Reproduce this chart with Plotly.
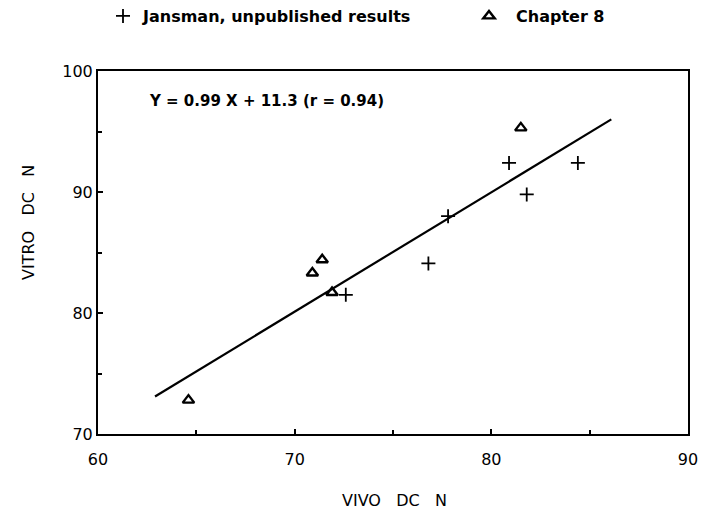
import plotly.graph_objects as go

# Data
jansman_x = [72.6, 76.8, 77.8, 80.9, 81.8, 84.4]
jansman_y = [81.5, 84.1, 88.0, 92.4, 89.8, 92.4]

chapter8_x = [64.6, 70.9, 71.4, 71.9, 81.5]
chapter8_y = [72.8, 83.3, 84.4, 81.7, 95.3]

fit_x = [62.9, 86.1]
fit_y = [73.1, 96.0]

equation_text = "Y = 0.99 X + 11.3 (r = 0.94)"
x_title = "VIVO   DC   N"
y_title = "VITRO   DC   N"

FONT = "DejaVu Sans"

fig = go.Figure()

fig.add_trace(go.Scatter(
    x=jansman_x, y=jansman_y, mode="markers",
    name="Jansman, unpublished results", legend="legend",
    marker=dict(symbol="cross-thin", size=10, color="black",
                line=dict(color="black", width=1.8)),
))
fig.add_trace(go.Scatter(
    x=chapter8_x, y=chapter8_y, mode="markers",
    name="Chapter 8", legend="legend2",
    marker=dict(symbol="triangle-up-open", size=10, color="black",
                line=dict(color="black", width=2.4)),
))
fig.add_trace(go.Scatter(
    x=fit_x, y=fit_y, mode="lines", showlegend=False,
    line=dict(color="black", width=2.2),
))

fig.add_annotation(
    x=0.083, y=0.917, xref="paper", yref="paper",
    xanchor="left", yanchor="middle", showarrow=False,
    text=equation_text,
    font=dict(family=FONT, size=15, color="black", weight="bold"),
)
fig.add_annotation(
    x=(28 - 98) / 590, y=1 - (223 - 71) / 363, xref="paper", yref="paper",
    xanchor="center", yanchor="middle", showarrow=False, textangle=-90,
    text=y_title,
    font=dict(family=FONT, size=16, color="black"),
)
fig.add_annotation(
    x=(395 - 98) / 590, y=-(500 - 434) / 363, xref="paper", yref="paper",
    xanchor="center", yanchor="middle", showarrow=False,
    text=x_title,
    font=dict(family=FONT, size=16, color="black"),
)

axis_common = dict(
    showgrid=False, zeroline=False, showline=True, linecolor="black",
    linewidth=2, mirror=True, ticks="inside", ticklen=5, tickwidth=1.5,
    tickcolor="black", tickfont=dict(family=FONT, size=16, color="black"),
    minor=dict(ticks="inside", ticklen=4, tickwidth=1.5, tickcolor="black", dtick=5),
)

fig.update_xaxes(range=[60, 90], dtick=10, ticklabelstandoff=10, **axis_common)
fig.update_yaxes(range=[70, 100], dtick=10, **axis_common)

legend_common = dict(
    orientation="h", y=1 + (71 - 16) / 363,
    xanchor="left", yanchor="middle",
    font=dict(family=FONT, size=16, color="black", weight="bold"),
    bgcolor="rgba(0,0,0,0)",
)

fig.update_layout(
    width=701, height=514,
    margin=dict(l=98, r=13, t=71, b=80, autoexpand=False),
    paper_bgcolor="white", plot_bgcolor="white",
    showlegend=True,
    legend=dict(x=(103 - 98) / 590, **legend_common),
    legend2=dict(x=(462 - 98) / 590, itemwidth=44, **legend_common),
)

fig.write_html("out.html")
